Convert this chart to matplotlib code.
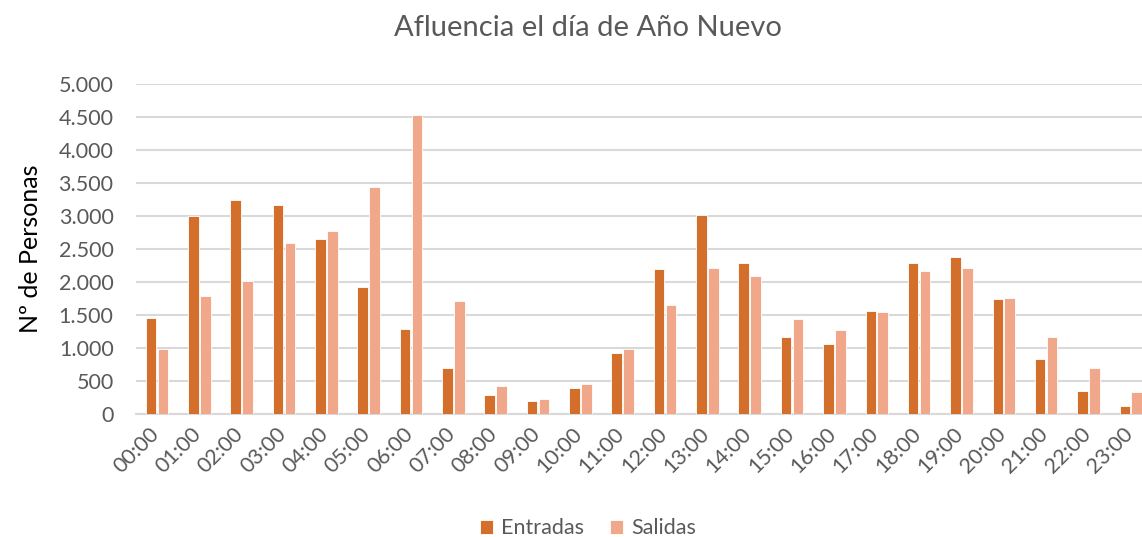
import matplotlib.pyplot as plt
import matplotlib.transforms as mtransforms
import numpy as np
from matplotlib.ticker import FuncFormatter

horas = ["%02d:00" % h for h in range(24)]
entradas = [1450, 3000, 3240, 3170, 2650, 1930, 1290, 700, 290, 190, 390, 930,
            2190, 3015, 2290, 1160, 1060, 1566, 2295, 2375, 1745, 840, 355, 120]
salidas = [990, 1790, 2015, 2590, 2775, 3440, 4530, 1710, 430, 235, 455, 980,
           1650, 2210, 2090, 1440, 1280, 1548, 2160, 2220, 1765, 1160, 700, 335]

color_e = "#D46F2B"
color_s = "#F1A78A"
gris = "#595959"

plt.rcParams["font.family"] = ["Lato", "DejaVu Sans"]

fig = plt.figure(figsize=(11.42, 5.37), dpi=100)
ax = fig.add_axes([0.1189, 0.229, 0.8898, 0.6145])

x = np.arange(len(horas))
ancho = 0.25
ax.bar(x - 0.14, entradas, ancho, color=color_e, edgecolor="white", linewidth=0.6,
       label="Entradas", zorder=3)
ax.bar(x + 0.14, salidas, ancho, color=color_s, edgecolor="white", linewidth=0.6,
       label="Salidas", zorder=3)

ax.set_xlim(-0.5, 23.5)
ax.set_ylim(0, 5000)
ax.set_yticks(np.arange(0, 5001, 500))
ax.yaxis.set_major_formatter(FuncFormatter(lambda v, p: "{:,.0f}".format(v).replace(",", ".")))
ax.grid(axis="y", color="#D9D9D9", linewidth=1.5, zorder=0)

for s in ["top", "right", "left"]:
    ax.spines[s].set_visible(False)
ax.spines["bottom"].set_color("#D9D9D9")
ax.spines["bottom"].set_linewidth(1.5)

ax.set_xticks(x)
ax.set_xticklabels(horas, rotation=45, ha="right", rotation_mode="anchor")
ax.tick_params(axis="both", length=0, colors=gris, labelsize=15.5)
ax.tick_params(axis="x", pad=7)
ax.tick_params(axis="y", pad=16)

# desplazar un poco las etiquetas del eje x a la izquierda
desp = mtransforms.ScaledTranslation(-6 / 72, 0, fig.dpi_scale_trans)
for lbl in ax.get_xticklabels():
    lbl.set_transform(lbl.get_transform() + desp)

ax.set_ylabel("Nº de Personas", fontsize=18, color="black", labelpad=12)
fig.text(0.515, 0.948, "Afluencia el día de Año Nuevo", ha="center", va="center",
         fontsize=21, color=gris)

fig.legend(loc="center", bbox_to_anchor=(0.515, 0.016), ncol=2, frameon=False,
           fontsize=15.5, labelcolor=gris, handlelength=0.6, handleheight=0.6,
           handletextpad=0.4, columnspacing=1.2)

fig.savefig("out.png", dpi=100)
